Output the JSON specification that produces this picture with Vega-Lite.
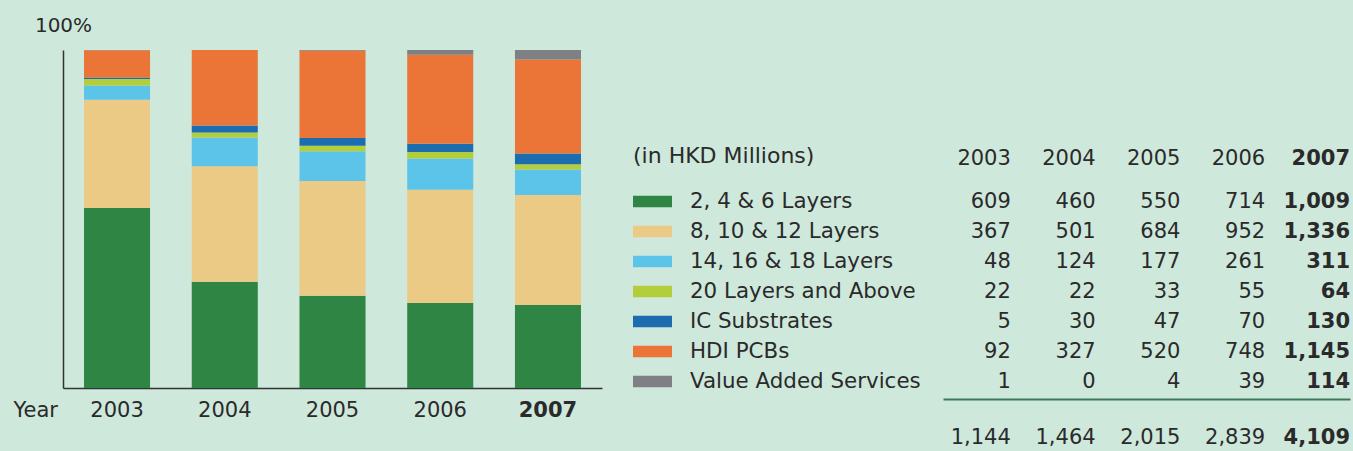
{
  "$schema": "https://vega.github.io/schema/vega-lite/v6.json",
  "background": "#cfe8dc",
  "padding": {"left": 13, "top": 15, "right": 4, "bottom": 10},
  "bounds": "flush",
  "spacing": 341,
  "config": {
    "view": {"stroke": null},
    "font": "DejaVu Sans",
    "text": {"color": "#2a2a2a"},
    "axis": {"labelColor": "#2a2a2a", "titleColor": "#2a2a2a", "grid": false, "labelOverlap": false}
  },
  "datasets": {
    "pcb": [
      {"year": "2003", "category": "2, 4 & 6 Layers", "rank": 1, "value": 609},
      {"year": "2003", "category": "8, 10 & 12 Layers", "rank": 2, "value": 367},
      {"year": "2003", "category": "14, 16 & 18 Layers", "rank": 3, "value": 48},
      {"year": "2003", "category": "20 Layers and Above", "rank": 4, "value": 22},
      {"year": "2003", "category": "IC Substrates", "rank": 5, "value": 5},
      {"year": "2003", "category": "HDI PCBs", "rank": 6, "value": 92},
      {"year": "2003", "category": "Value Added Services", "rank": 7, "value": 1},
      {"year": "2004", "category": "2, 4 & 6 Layers", "rank": 1, "value": 460},
      {"year": "2004", "category": "8, 10 & 12 Layers", "rank": 2, "value": 501},
      {"year": "2004", "category": "14, 16 & 18 Layers", "rank": 3, "value": 124},
      {"year": "2004", "category": "20 Layers and Above", "rank": 4, "value": 22},
      {"year": "2004", "category": "IC Substrates", "rank": 5, "value": 30},
      {"year": "2004", "category": "HDI PCBs", "rank": 6, "value": 327},
      {"year": "2004", "category": "Value Added Services", "rank": 7, "value": 0},
      {"year": "2005", "category": "2, 4 & 6 Layers", "rank": 1, "value": 550},
      {"year": "2005", "category": "8, 10 & 12 Layers", "rank": 2, "value": 684},
      {"year": "2005", "category": "14, 16 & 18 Layers", "rank": 3, "value": 177},
      {"year": "2005", "category": "20 Layers and Above", "rank": 4, "value": 33},
      {"year": "2005", "category": "IC Substrates", "rank": 5, "value": 47},
      {"year": "2005", "category": "HDI PCBs", "rank": 6, "value": 520},
      {"year": "2005", "category": "Value Added Services", "rank": 7, "value": 4},
      {"year": "2006", "category": "2, 4 & 6 Layers", "rank": 1, "value": 714},
      {"year": "2006", "category": "8, 10 & 12 Layers", "rank": 2, "value": 952},
      {"year": "2006", "category": "14, 16 & 18 Layers", "rank": 3, "value": 261},
      {"year": "2006", "category": "20 Layers and Above", "rank": 4, "value": 55},
      {"year": "2006", "category": "IC Substrates", "rank": 5, "value": 70},
      {"year": "2006", "category": "HDI PCBs", "rank": 6, "value": 748},
      {"year": "2006", "category": "Value Added Services", "rank": 7, "value": 39},
      {"year": "2007", "category": "2, 4 & 6 Layers", "rank": 1, "value": 1009},
      {"year": "2007", "category": "8, 10 & 12 Layers", "rank": 2, "value": 1336},
      {"year": "2007", "category": "14, 16 & 18 Layers", "rank": 3, "value": 311},
      {"year": "2007", "category": "20 Layers and Above", "rank": 4, "value": 64},
      {"year": "2007", "category": "IC Substrates", "rank": 5, "value": 130},
      {"year": "2007", "category": "HDI PCBs", "rank": 6, "value": 1145},
      {"year": "2007", "category": "Value Added Services", "rank": 7, "value": 114}
    ]
  },
  "hconcat": [
    {
      "width": 539,
      "height": 338,
      "data": {"name": "pcb"},
      "mark": {"type": "bar"},
      "encoding": {
        "x": {
          "field": "year", "type": "ordinal",
          "scale": {"paddingInner": 0.387, "paddingOuter": 0.195},
          "axis": {
            "title": "Year", "domain": true, "domainColor": "#333333", "domainWidth": 1.5,
            "ticks": false, "labelAngle": 0, "labelFontSize": 21, "labelBaseline": "middle", "labelPadding": 22,
            "labelFontWeight": {"condition": {"test": "datum.value == '2007'", "value": "bold"}, "value": "normal"},
            "titleFontSize": 21, "titleFontWeight": "normal", "titleX": -50, "titleY": 22,
            "titleAlign": "left", "titleBaseline": "middle"
          }
        },
        "y": {
          "field": "value", "type": "quantitative", "stack": "normalize",
          "scale": {"domain": [0, 1], "nice": false},
          "axis": {
            "title": "100%", "domain": true, "domainColor": "#333333", "domainWidth": 1.5,
            "ticks": false, "labels": false, "titleAngle": 0, "titleX": 0, "titleY": -25,
            "titleAlign": "center", "titleBaseline": "middle", "titleFontSize": 20, "titleFontWeight": "normal"
          }
        },
        "color": {
          "field": "category", "type": "nominal",
          "scale": {
            "domain": ["2, 4 & 6 Layers", "8, 10 & 12 Layers", "14, 16 & 18 Layers", "20 Layers and Above", "IC Substrates", "HDI PCBs", "Value Added Services"],
            "range": ["#2f8644", "#ebca86", "#5cc4e8", "#b4cd3a", "#1c6db0", "#eb7536", "#7e8083"]
          },
          "legend": {
            "orient": "none", "legendX": 570, "legendY": 96, "padding": 0,
            "title": "(in HKD Millions)", "titleFontSize": 22, "titleFontWeight": "normal", "titleColor": "#2a2a2a",
            "titleLimit": 400, "titlePadding": 14, "labelFontSize": 21.4, "labelColor": "#2a2a2a", "labelOffset": 18, "labelLimit": 400,
            "symbolType": "M-1,-0.3H1V0.3H-1Z", "symbolSize": 1521, "symbolStrokeWidth": 0, "symbolOpacity": 1,
            "rowPadding": 0
          }
        },
        "order": {"field": "rank", "type": "quantitative"}
      }
    },
    {
      "bounds": "flush",
      "spacing": 4,
      "vconcat": [
        {
          "width": 407,
          "height": 131,
          "data": {"name": "pcb"},
          "transform": [{"filter": "datum.rank == 1"}],
          "encoding": {
            "x": {
              "field": "year", "type": "ordinal", "bandPosition": 1,
              "scale": {"type": "band", "paddingInner": 0.2, "paddingOuter": 0},
              "axis": null
            },
            "text": {"field": "year", "type": "nominal"}
          },
          "layer": [
            {
              "transform": [{"filter": "datum.year != '2007'"}],
              "mark": {"type": "text", "align": "right", "baseline": "middle", "fontSize": 21, "color": "#2a2a2a", "yOffset": 43.5}
            },
            {
              "transform": [{"filter": "datum.year == '2007'"}],
              "mark": {"type": "text", "align": "right", "baseline": "middle", "fontSize": 21, "fontWeight": "bold", "color": "#2a2a2a", "yOffset": 43.5}
            }
          ]
        },
        {
          "width": 407,
          "height": {"step": 30},
          "data": {"name": "pcb"},
          "encoding": {
            "x": {
              "field": "year", "type": "ordinal", "bandPosition": 1,
              "scale": {"type": "band", "paddingInner": 0.2, "paddingOuter": 0},
              "axis": null
            },
            "y": {
              "field": "category", "type": "ordinal",
              "scale": {
                "type": "band",
                "domain": ["2, 4 & 6 Layers", "8, 10 & 12 Layers", "14, 16 & 18 Layers", "20 Layers and Above", "IC Substrates", "HDI PCBs", "Value Added Services"],
                "paddingInner": 0, "paddingOuter": 0
              },
              "axis": null
            },
            "text": {"field": "value", "type": "quantitative", "format": ","}
          },
          "layer": [
            {
              "transform": [{"filter": "datum.year != '2007'"}],
              "mark": {"type": "text", "align": "right", "baseline": "middle", "fontSize": 21, "color": "#2a2a2a", "yOffset": 2}
            },
            {
              "transform": [{"filter": "datum.year == '2007'"}],
              "mark": {"type": "text", "align": "right", "baseline": "middle", "fontSize": 21, "fontWeight": "bold", "color": "#2a2a2a", "yOffset": 2}
            }
          ]
        },
        {
          "width": 407,
          "height": 40,
          "data": {"name": "pcb"},
          "encoding": {
            "x": {
              "field": "year", "type": "ordinal", "bandPosition": 1,
              "scale": {"type": "band", "paddingInner": 0.2, "paddingOuter": 0},
              "axis": {"orient": "top", "title": null, "labels": false, "ticks": false, "domain": true, "domainColor": "#3d7a5c", "domainWidth": 2}
            },
            "text": {"aggregate": "sum", "field": "value", "type": "quantitative", "format": ","}
          },
          "layer": [
            {
              "transform": [{"filter": "datum.year != '2007'"}],
              "mark": {"type": "text", "align": "right", "baseline": "middle", "fontSize": 21, "color": "#2a2a2a", "yOffset": 19}
            },
            {
              "transform": [{"filter": "datum.year == '2007'"}],
              "mark": {"type": "text", "align": "right", "baseline": "middle", "fontSize": 21, "fontWeight": "bold", "color": "#2a2a2a", "yOffset": 19}
            }
          ]
        }
      ]
    }
  ]
}
